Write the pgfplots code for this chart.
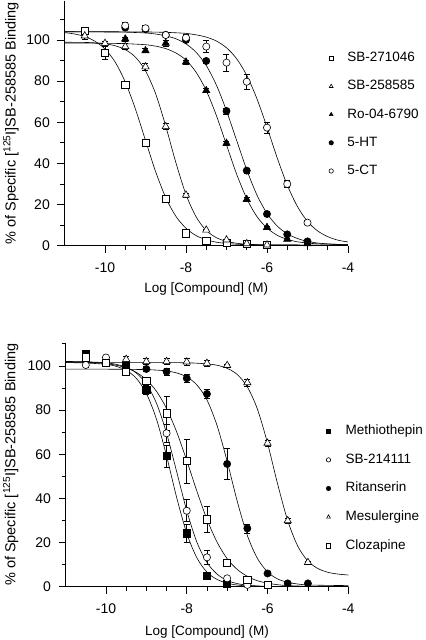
\documentclass[border=0pt]{standalone}
\usepackage{pgfplots}
\pgfplotsset{compat=1.18}
\usepackage{fontspec}
\setmainfont{Liberation Sans}
\newcommand\figfont{\fontsize{13.5bp}{16bp}\selectfont}
\newcommand\tickfont{\fontsize{14bp}{16bp}\selectfont}
\newcommand\yfont{\fontsize{14.5bp}{17bp}\selectfont}

\pgfplotsset{
  panel/.style={
    scale only axis, axis x line*=bottom, axis y line*=left,
    xmin=-11, xmax=-4, ymin=0,
    xtick={-10,-8,-6,-4}, xticklabels={-10,-8,-6,-4},
    minor x tick num=3,
    ytick={0,20,40,60,80,100}, yticklabels={0,20,40,60,80,100},
    minor ytick={10,30,50,70,90,110},
    tick align=outside, major tick length=7bp, minor tick length=4bp,
    every tick/.style={black, line width=0.7bp},
    axis line style={black, line width=0.9bp, -},
    tick label style={font=\tickfont},
    xlabel style={font=\figfont},
    ylabel style={font=\yfont},
    yticklabel style={xshift=-3bp},
    xticklabel style={yshift=-5bp},
    legend cell align=left,
    legend image code/.code={\draw[##1, mark size=2.2bp] plot coordinates {(0bp,0bp)};},
    xlabel={Log [Compound] (M)},
    ylabel={\% of Specific [\textsuperscript{125}I]SB-258585 Binding},
  },
  fit/.style={black, line width=0.6bp, smooth, mark=none, forget plot},
  pts/.style={only marks, mark size=3.6bp,
     error bars/y dir=both, error bars/y explicit,
     error bars/error bar style={black, line width=0.6bp},
     error bars/error mark options={black, rotate=90, mark size=3bp, line width=0.6bp}},
  openmark/.style={mark options={solid, draw=black, fill=white, line width=0.6bp}},
  fillmark/.style={mark options={solid, draw=black, fill=black, line width=0.6bp}},
}

\begin{document}
\figfont
\begin{tikzpicture}
\path[use as bounding box] (0bp,0bp) rectangle (426bp,640bp);

% ---------------- top panel ----------------
\begin{axis}[panel, at={(64.5bp,394.3bp)}, anchor=south west,
  width=283.5bp, height=244.8bp, ymax=119,
  xlabel style={at={(axis description cs:0.5,-0.192)}, anchor=base},
  ylabel style={at={(axis description cs:-0.1728,0.5)}, anchor=base},
  legend style={at={(axis description cs:0.9323,0.7933)}, anchor=north west,
    draw=none, fill=none, inner sep=0bp, row sep=15.2bp, column sep=14bp, font=\figfont,
    nodes={inner sep=0bp, text height=10bp, text depth=3bp}},
]
\addplot[fit] coordinates {(-11,103.6) (-10.75,102.9) (-10.5,101.7) (-10.25,99.4) (-10,95.6) (-9.75,89.3) (-9.5,79.6) (-9.25,66.5) (-9,51.2) (-8.75,36.0) (-8.5,23.4) (-8.25,14.3) (-8,8.5) (-7.75,4.9) (-7.5,2.9) (-7.25,1.7) (-7,1.1) (-6.75,0.7) (-6.5,0.5) (-6,0.4) (-5,0.3) (-4,0.3)};
\addplot[fit] coordinates {(-11,98.9) (-10.5,98.8) (-10.25,98.6) (-10,98.1) (-9.75,97.2) (-9.5,95.3) (-9.25,91.7) (-9,85.0) (-8.75,73.9) (-8.5,58.1) (-8.25,40.4) (-8,24.9) (-7.75,14.0) (-7.5,7.4) (-7.25,3.9) (-7,2.1) (-6.75,1.2) (-6.5,0.7) (-6,0.4) (-5,0.3) (-4,0.3)};
\addplot[fit] coordinates {(-11,98.5) (-10,98.4) (-9.5,98.2) (-9,97.7) (-8.75,97.0) (-8.5,95.8) (-8.25,93.7) (-8,90.2) (-7.75,84.3) (-7.5,75.4) (-7.25,63.3) (-7,49.0) (-6.75,34.8) (-6.5,22.9) (-6.25,14.2) (-6,8.6) (-5.75,5.1) (-5.5,3.1) (-5.25,1.9) (-5,1.3) (-4.75,0.9) (-4.5,0.75) (-4,0.6)};
\addplot[fit] coordinates {(-11,104) (-10,103.9) (-9.5,103.8) (-9,103.4) (-8.75,102.9) (-8.5,102.0) (-8.25,100.6) (-8,98.1) (-7.75,94.0) (-7.5,87.6) (-7.25,78.1) (-7,65.6) (-6.75,51.2) (-6.5,36.9) (-6.25,24.7) (-6,15.7) (-5.75,9.6) (-5.5,5.8) (-5.25,3.5) (-5,2.1) (-4.75,1.3) (-4.5,0.9) (-4.25,0.6) (-4,0.5)};
\addplot[fit] coordinates {(-11,104) (-10,104) (-9,103.9) (-8.5,103.7) (-8.25,103.5) (-8,103.2) (-7.75,102.5) (-7.5,101.4) (-7.25,99.5) (-7,96.2) (-6.75,90.9) (-6.5,82.8) (-6.25,71.5) (-6,57.6) (-5.75,42.8) (-5.5,29.5) (-5.25,19.1) (-5,11.8) (-4.75,7.2) (-4.5,4.4) (-4.25,2.7) (-4,1.8)};

\addplot[pts, openmark, mark=square*] coordinates {(-10.5,104.5) +- (0,1) (-10,93.8) +- (0,3.3) (-9.5,78.4) +- (0,1.5) (-9,50.2) +- (0,1.5) (-8.5,22.7) +- (0,1) (-8,6.0) +- (0,0.8) (-7.5,2.3) +- (0,0.5) (-7,1.5) +- (0,0.5) (-6.5,1.0) +- (0,0.5) (-6,0.5) +- (0,0.3)};
\addlegendentry{\figfont SB-271046}
\addplot[pts, openmark, mark=triangle*, mark size=4.2bp] coordinates {(-10.5,102) +- (0,1.5) (-10,98.4) +- (0,1) (-9.5,96.8) +- (0,1.5) (-9,87.0) +- (0,1.5) (-8.5,57.9) +- (0,1.5) (-8,24.6) +- (0,1) (-7.5,7.6) +- (0,0.6) (-7,2.8) +- (0,0.5) (-6.5,1.0) +- (0,0.4) (-6,0.4) +- (0,0.3)};
\addlegendentry{\figfont SB-258585}
\addplot[pts, fillmark, mark=triangle*, mark size=4.2bp] coordinates {(-9.5,100.5) +- (0,1) (-9,94.8) +- (0,1) (-8.5,98.4) +- (0,1.5) (-8,89.3) +- (0,1) (-7.5,75.4) +- (0,1) (-7,49.8) +- (0,1) (-6.5,22.5) +- (0,1) (-6,8.9) +- (0,0.6) (-5.5,3.1) +- (0,0.5) (-5,1.0) +- (0,0.3)};
\addlegendentry{\figfont Ro-04-6790}
\addplot[pts, fillmark, mark=*] coordinates {(-9.5,106) +- (0,1) (-9,105.2) +- (0,1) (-8.5,102.5) +- (0,1) (-8,100.0) +- (0,1) (-7.5,89.8) +- (0,1) (-7,65.5) +- (0,1.5) (-6.5,36.5) +- (0,1.2) (-6,15.4) +- (0,0.8) (-5.5,5.5) +- (0,0.5) (-5,2.1) +- (0,0.4)};
\addlegendentry{\figfont 5-HT}
\addplot[pts, openmark, mark=*] coordinates {(-9.5,107) +- (0,1.5) (-9,105.7) +- (0,1.5) (-8.5,102.4) +- (0,1) (-8,101.1) +- (0,1.5) (-7.5,96.8) +- (0,3) (-7,89.0) +- (0,4) (-6.5,79.7) +- (0,3.5) (-6,57.4) +- (0,2.7) (-5.5,30.0) +- (0,1.8) (-5,11.2) +- (0,1)};
\addlegendentry{\figfont 5-CT}
\end{axis}

% ---------------- bottom panel ----------------
\begin{axis}[panel, at={(65.6bp,53.3bp)}, anchor=south west,
  width=282.7bp, height=244bp, ymax=110.5,
  xlabel style={at={(axis description cs:0.5,-0.202)}, anchor=base},
  ylabel style={at={(axis description cs:-0.178,0.5)}, anchor=base},
  legend style={at={(axis description cs:0.9215,0.6644)}, anchor=north west,
    draw=none, fill=none, inner sep=0bp, row sep=15.6bp, column sep=15bp, font=\figfont,
    nodes={inner sep=0bp, text height=10bp, text depth=3bp}},
]
\addplot[fit] coordinates {(-11,101.5) (-10.5,101.3) (-10,100.7) (-9.75,99.8) (-9.5,98.0) (-9.25,94.4) (-9,87.5) (-8.75,75.9) (-8.5,59.2) (-8.25,40.4) (-8,24.2) (-7.75,13.1) (-7.5,6.6) (-7.25,3.3) (-7,1.6) (-6.75,0.75) (-6.5,0.36) (-6,0.1) (-5,0) (-4,0)};
\addplot[fit] coordinates {(-11,102) (-10.5,101.85) (-10,101.4) (-9.75,100.7) (-9.5,99.4) (-9.25,96.8) (-9,91.8) (-8.75,83.1) (-8.5,69.5) (-8.25,52.1) (-8,34.4) (-7.75,20.2) (-7.5,11.0) (-7.25,5.7) (-7,2.8) (-6.75,1.4) (-6.5,0.7) (-6.25,0.35) (-6,0.2) (-5,0) (-4,0)};
\addplot[fit] coordinates {(-11,98.5) (-10,98.5) (-9.5,98.45) (-9,98.3) (-8.75,98.1) (-8.5,97.7) (-8.25,96.8) (-8,95.0) (-7.75,91.4) (-7.5,84.6) (-7.25,73.0) (-7,56.8) (-6.75,38.7) (-6.5,23.2) (-6.25,12.8) (-6,6.7) (-5.75,3.5) (-5.5,2.0) (-5.25,1.2) (-5,0.8) (-4.5,0.6) (-4,0.5)};
\addplot[fit] coordinates {(-11,101.5) (-10,101.5) (-9,101.5) (-8,101.4) (-7.5,100.9) (-7.25,100.3) (-7,98.9) (-6.75,96.1) (-6.5,90.5) (-6.25,80.4) (-6,65.0) (-5.75,46.5) (-5.5,29.9) (-5.25,18.3) (-5,11.6) (-4.75,8.2) (-4.5,6.5) (-4.25,5.7) (-4,5.3)};
\addplot[fit] coordinates {(-11,101.9) (-10.75,101.8) (-10.5,101.7) (-10.25,101.4) (-10,101.0) (-9.75,100.3) (-9.5,99.1) (-9.25,97.1) (-9,93.7) (-8.75,88.5) (-8.5,80.7) (-8.25,70.1) (-8,57.1) (-7.75,43.3) (-7.5,30.5) (-7.25,20.2) (-7,12.7) (-6.75,7.8) (-6.5,4.7) (-6.25,2.7) (-6,1.6) (-5.75,0.9) (-5.5,0.5) (-5,0.2) (-4,0)};

\addplot[pts, fillmark, mark=square*] coordinates {(-10.5,105.5) +- (0,1) (-9.5,100.5) +- (0,1) (-9,89.0) +- (0,2) (-8.5,59.2) +- (0,5) (-8,24.2) +- (0,4) (-7.5,5.1) +- (0,0.8) (-7,1.2) +- (0,0.4)};
\addlegendentry{\figfont Methiothepin}
\addplot[pts, openmark, mark=*] coordinates {(-10.5,100.4) +- (0,1) (-10,103.8) +- (0,1) (-8.5,69.5) +- (0,4) (-8,34.4) +- (0,5) (-7.5,13.3) +- (0,3) (-7,3.8) +- (0,0.8) (-6.5,0.8) +- (0,0.4)};
\addlegendentry{\figfont SB-214111}
\addplot[pts, fillmark, mark=*] coordinates {(-9,98.6) +- (0,1) (-8.5,97.4) +- (0,1.5) (-8,94.4) +- (0,2) (-7.5,87.3) +- (0,2) (-7,55.6) +- (0,7) (-6.5,26.4) +- (0,2) (-6,6.0) +- (0,0.8) (-5.5,1.5) +- (0,0.4) (-5,1.5) +- (0,0.4)};
\addlegendentry{\figfont Ritanserin}
\addplot[pts, openmark, mark=triangle*, mark size=4.2bp] coordinates {(-9.5,103.0) +- (0,1.5) (-9,102.0) +- (0,1.5) (-8.5,102.0) +- (0,1.5) (-8,101.8) +- (0,1.5) (-7.5,101.2) +- (0,1.5) (-7,100.2) +- (0,0.6) (-6.5,92.4) +- (0,1.5) (-6,65.0) +- (0,1.5) (-5.5,29.9) +- (0,1.2) (-5,11.0) +- (0,0.6)};
\addlegendentry{\figfont Mesulergine}
\addplot[pts, openmark, mark=square*] coordinates {(-10.5,103.9) +- (0,1) (-10,101.5) +- (0,1) (-9.5,97.4) +- (0,1) (-9,93.3) +- (0,1.5) (-8.5,78.5) +- (0,7.5) (-8,56.9) +- (0,10) (-7.5,30.5) +- (0,6) (-7,10.9) +- (0,1.5) (-6.5,3.3) +- (0,0.6) (-6,0.8) +- (0,0.4)};
\addlegendentry{\figfont Clozapine}
\end{axis}
\end{tikzpicture}
\end{document}
